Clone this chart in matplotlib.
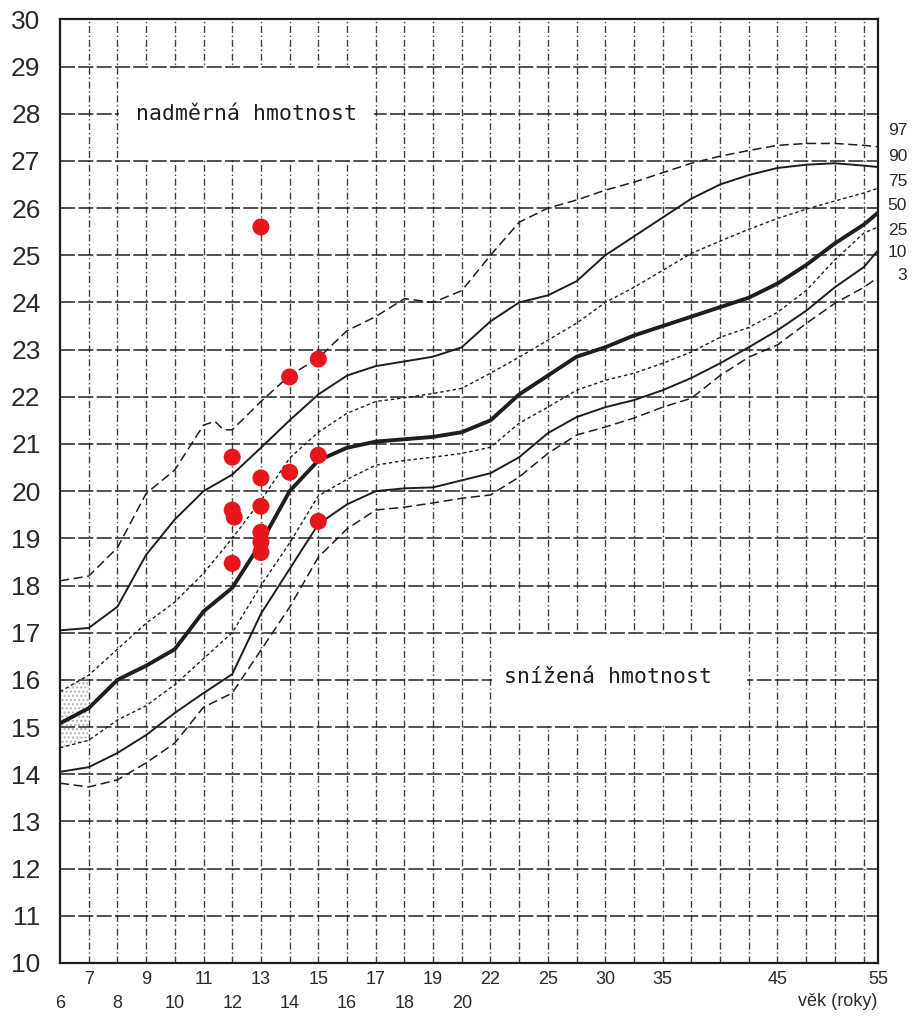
import numpy as np
import matplotlib
matplotlib.use("Agg")
import matplotlib.pyplot as plt
from matplotlib.patches import Rectangle
from matplotlib.transforms import blended_transform_factory

# ---------------- data ----------------
# age axis is a stretched scale: knot ages -> grid-column positions
AXIS_AGE_KNOTS = [6, 20, 22, 25, 30, 35, 45, 55]
AXIS_POS_KNOTS = [0, 14, 15, 17, 19, 21, 25, 28.5]

AGES = [6, 7, 8, 9, 10, 11, 12, 13, 14, 15, 16, 17, 18, 19, 20, 22, 23.5, 25,
        27.5, 30, 32.5, 35, 37.5, 40, 42.5, 45, 47.9, 50.7, 53.6, 55]

AGES_97 = [6, 7, 8, 9, 10, 11, 11.4, 11.7, 12, 12.5, 13, 14, 15, 16, 17, 18, 19, 20, 22,
           23.5, 25, 27.5, 30, 32.5, 35, 37.5, 40, 42.5, 45, 47.9, 50.7, 53.6, 55]
P97 = [18.1, 18.2, 18.8, 19.95, 20.45, 21.4, 21.48, 21.3, 21.3, 21.6, 21.9, 22.45, 22.82,
       23.4, 23.7, 24.08, 24.0, 24.25, 25.0, 25.7, 26.0, 26.17, 26.38, 26.55, 26.75,
       26.95, 27.1, 27.22, 27.33, 27.37, 27.37, 27.33, 27.3]
P90 = [17.05, 17.1, 17.55, 18.65, 19.4, 20.0, 20.35, 20.92, 21.5, 22.05, 22.45, 22.65,
       22.75, 22.85, 23.05, 23.6, 24.0, 24.15, 24.45, 25.0, 25.4, 25.8, 26.2, 26.5,
       26.7, 26.85, 26.92, 26.95, 26.9, 26.87]
P75 = [15.75, 16.1, 16.65, 17.2, 17.65, 18.26, 19.0, 19.8, 20.7, 21.25, 21.65, 21.9,
       21.98, 22.07, 22.18, 22.5, 22.84, 23.2, 23.56, 24.0, 24.32, 24.68, 25.04, 25.3,
       25.55, 25.78, 25.98, 26.15, 26.32, 26.42]
P50 = [15.08, 15.4, 16.0, 16.3, 16.65, 17.45, 17.95, 18.9, 20.0, 20.65, 20.92, 21.05,
       21.1, 21.15, 21.25, 21.5, 22.05, 22.45, 22.85, 23.05, 23.3, 23.5, 23.7, 23.9,
       24.1, 24.4, 24.8, 25.25, 25.65, 25.9]
P25 = [14.56, 14.72, 15.15, 15.45, 15.9, 16.45, 17.0, 18.0, 18.9, 19.9, 20.25, 20.55,
       20.65, 20.72, 20.8, 20.93, 21.44, 21.78, 22.14, 22.35, 22.5, 22.71, 22.95, 23.26,
       23.47, 23.79, 24.26, 24.9, 25.47, 25.6]
P10 = [14.05, 14.15, 14.45, 14.83, 15.3, 15.72, 16.12, 17.4, 18.35, 19.3, 19.72, 20.0,
       20.06, 20.08, 20.23, 20.38, 20.72, 21.23, 21.57, 21.78, 21.93, 22.14, 22.4, 22.71,
       23.05, 23.41, 23.83, 24.32, 24.75, 25.1]
P3 = [13.81, 13.73, 13.88, 14.24, 14.66, 15.42, 15.72, 16.63, 17.54, 18.6, 19.2, 19.6,
      19.66, 19.75, 19.85, 19.92, 20.3, 20.8, 21.19, 21.36, 21.55, 21.78, 21.97, 22.45,
      22.84, 23.1, 23.56, 23.98, 24.32, 24.53]

PERCENTILE_LABELS = ["97", "90", "75", "50", "25", "10", "3"]
PERCENTILE_LABEL_Y = [27.65, 27.1, 26.57, 26.06, 25.53, 25.06, 24.58]

POINT_AGES = [13, 15, 14, 12, 15, 14, 13, 12, 12.07, 13, 15, 13, 13, 13, 12]
POINT_BMI = [25.6, 22.8, 22.42, 20.72, 20.76, 20.4, 20.28, 19.6, 19.45, 19.68, 19.36,
             19.13, 18.92, 18.7, 18.47]

TICK_AGES_UPPER = [7, 9, 11, 13, 15, 17, 19, 22, 25, 30, 35, 45, 55]
TICK_AGES_LOWER = [6, 8, 10, 12, 14, 16, 18, 20]
Y_TICKS = list(range(10, 31))

# ---------------- scale ----------------
AK = np.array(AXIS_AGE_KNOTS, float)
PK = np.array(AXIS_POS_KNOTS, float)


def _interp_ext(v, xs, ys):
    v = np.asarray(v, float)
    out = np.interp(v, xs, ys)
    lo = v < xs[0]
    hi = v > xs[-1]
    out = np.where(lo, ys[0] + (v - xs[0]) * (ys[1] - ys[0]) / (xs[1] - xs[0]), out)
    out = np.where(hi, ys[-1] + (v - xs[-1]) * (ys[-1] - ys[-2]) / (xs[-1] - xs[-2]), out)
    return out


def fwd(a):
    return _interp_ext(a, AK, PK)


def inv(p):
    return _interp_ext(p, PK, AK)


# ---------------- figure ----------------
plt.rcParams['font.family'] = ['Liberation Sans', 'DejaVu Sans']
fig = plt.figure(figsize=(9.19, 10.19), dpi=100)
ax = fig.add_axes([0.0653, 0.055, 0.890, 0.926])
ax.set_xscale('function', functions=(fwd, inv))
ax.set_xlim(6, 55)
ax.set_ylim(10, 30)

ink = '#1e1e1e'

# grid
for p in range(1, 29):
    ax.axvline(float(inv(p)), color=ink, lw=1.0, ls=(0, (5, 2, 1, 2)), zorder=1, alpha=0.85)
for y in range(11, 30):
    ax.axhline(y, color=ink, lw=1.2, ls=(0, (9, 2)), zorder=1, alpha=0.9)

# white label boxes
ax.add_patch(Rectangle((float(inv(2.06)), 27.03), float(inv(10.94)) - float(inv(2.06)), 1.94,
                       facecolor='white', edgecolor='none', zorder=2))
ax.add_patch(Rectangle((float(inv(15.06)), 15.03), float(inv(23.94)) - float(inv(15.06)), 1.94,
                       facecolor='white', edgecolor='none', zorder=2))
ax.text(12.5, 28.0, "nadměrná hmotnost", family='DejaVu Sans Mono', fontsize=15.5,
        ha='center', va='center', color=ink, zorder=3)
ax.text(30.2, 16.06, "snížená hmotnost", family='DejaVu Sans Mono', fontsize=15.5,
        ha='center', va='center', color=ink, zorder=3)

# stippled area at the start
ax.fill_between(AGES[:2], P25[:2], P75[:2], facecolor='none', edgecolor='#b0b0b0',
                hatch='....', lw=0, zorder=2)

# percentile curves
common = dict(color=ink, zorder=4, solid_joinstyle='round', dash_joinstyle='round',
              solid_capstyle='round')
ax.plot(AGES_97, P97, lw=1.1, ls=(0, (6, 3)), **common)
ax.plot(AGES, P90, lw=1.4, ls='-', **common)
ax.plot(AGES, P75, lw=1.0, ls=(0, (2.5, 2)), **common)
ax.plot(AGES, P50, lw=2.8, ls='-', **common)
ax.plot(AGES, P25, lw=1.0, ls=(0, (2.5, 2)), **common)
ax.plot(AGES, P10, lw=1.4, ls='-', **common)
ax.plot(AGES, P3, lw=1.1, ls=(0, (6, 3)), **common)

# data points
ax.scatter(POINT_AGES, POINT_BMI, s=150, color='#e8161b', edgecolors='none', zorder=6)

# spines
for sp in ax.spines.values():
    sp.set_color(ink)
    sp.set_linewidth(1.6)

# ticks
ax.set_yticks(Y_TICKS)
ax.set_yticklabels([str(v) for v in Y_TICKS])
ax.tick_params(axis='y', length=0, pad=14, labelsize=19, labelcolor='#2a2a2a')
xt = TICK_AGES_UPPER + TICK_AGES_LOWER
xl = [str(a) for a in TICK_AGES_UPPER] + ["\n" + str(a) for a in TICK_AGES_LOWER]
ax.set_xticks(xt)
ax.set_xticklabels(xl)
ax.minorticks_off()
ax.tick_params(axis='x', length=0, pad=6, labelsize=13, labelcolor='#2a2a2a')
for lab in ax.get_xticklabels():
    lab.set_linespacing(1.5)

# percentile labels on the right
tr = blended_transform_factory(fig.transFigure, ax.transData)
for lab, yv in zip(PERCENTILE_LABELS, PERCENTILE_LABEL_Y):
    ax.text(0.987, yv, lab, transform=tr, ha='right', va='center', fontsize=12.5,
            color='#2a2a2a', clip_on=False)

fig.text(0.955, 0.017, "věk (roky)", ha='right', va='center', fontsize=13, color='#2a2a2a')

fig.savefig("out.png", dpi=100, facecolor='white')
